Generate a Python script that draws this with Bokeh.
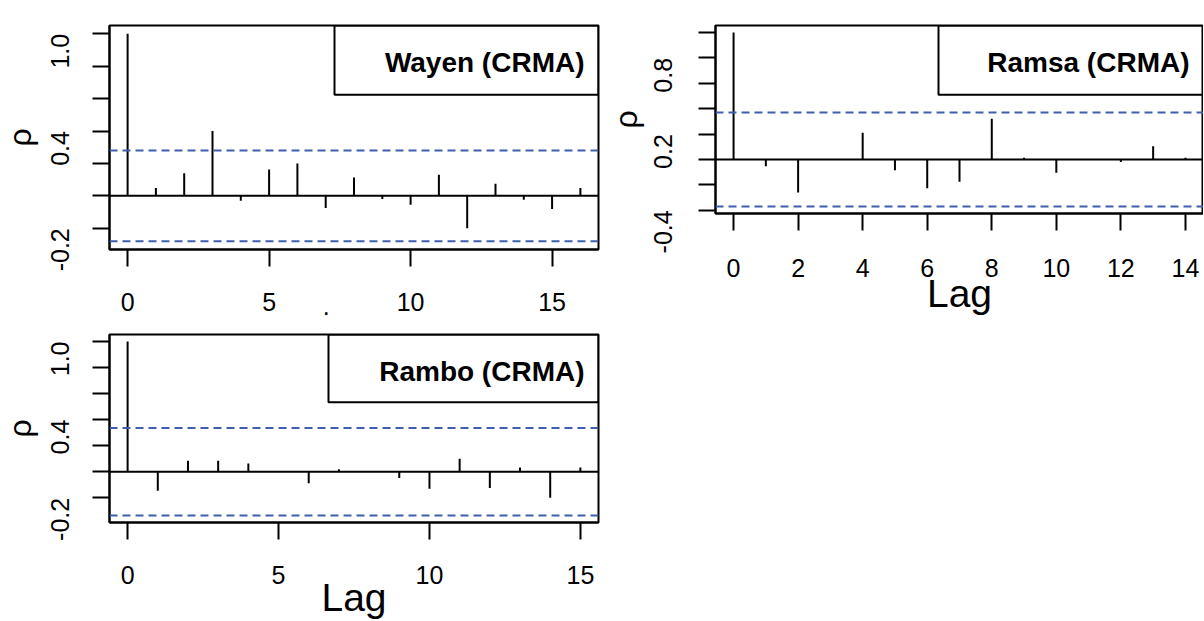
import math
from bokeh.plotting import figure
from bokeh.layouts import row, column
from bokeh.models import Span, BoxAnnotation, Label, FixedTicker, Range1d
from bokeh.embed import file_html
from bokeh.resources import INLINE

# ---------------- data ----------------
lags_wayen = list(range(17))
acf_wayen = [1.0, 0.048, 0.14, 0.40, -0.03, 0.163, 0.20, -0.075, 0.113, -0.02,
             -0.055, 0.13, -0.20, 0.075, -0.024, -0.082, 0.048]
ci_wayen = 0.28

lags_ramsa = list(range(15))
acf_ramsa = [1.0, -0.052, -0.26, 0.003, 0.21, -0.084, -0.227, -0.175, 0.32, 0.013,
             -0.105, 0.004, -0.02, 0.104, 0.013]
ci_ramsa = 0.37

lags_rambo = list(range(16))
acf_rambo = [1.0, -0.145, 0.084, 0.084, 0.064, 0.003, -0.088, 0.02, 0.003, -0.048,
             -0.13, 0.10, -0.125, 0.033, -0.20, 0.033]
ci_rambo = 0.336

titles = ["Wayen (CRMA)", "Ramsa (CRMA)", "Rambo (CRMA)"]

yticks_a = [-0.2, 0, 0.2, 0.4, 0.6, 0.8, 1]
ylabels_a = {1: "1.0", 0.4: "0.4", -0.2: "-0.2"}
yticks_b = [-0.4, -0.2, 0, 0.2, 0.4, 0.6, 0.8, 1]
ylabels_b = {0.8: "0.8", 0.2: "0.2", -0.4: "-0.4"}
xticks_a = [0, 5, 10, 15]
xticks_b = [0, 2, 4, 6, 8, 10, 12, 14]
ylabel = "ρ"
xlabel = "Lag"

FONT = "Liberation Sans"
CI_COLOR = "#3f5fad"
SHIFT = 11  # extra left room for the rho label, compensated by the layout margin


def padded(lo, hi):
    d = (hi - lo) * 0.04
    return lo - d, hi + d


def make_panel(lags, acf, ci, title, yticks, ylabels, xticks,
               width, height, bl, br, bt, bb, legend_w, legend_h,
               xstand, ystand=32, xlab=None, xlab_stand=0, xlab_size="39px"):
    x0, x1 = padded(min(lags), max(lags))
    y0, y1 = padded(min(-ci, min(acf)), max(acf))
    p = figure(width=width, height=height, output_backend="svg",
               toolbar_location=None, x_range=Range1d(x0, x1),
               y_range=Range1d(y0, y1),
               min_border_left=bl, min_border_right=br,
               min_border_top=bt, min_border_bottom=bb)
    p.grid.visible = False
    p.outline_line_color = "black"
    p.outline_line_width = 2
    p.background_fill_color = "white"
    p.border_fill_color = "white"

    fw = width - bl - br
    fh = height - bt - bb

    for ax in (p.xaxis[0], p.yaxis[0]):
        ax.axis_line_width = 2
        ax.axis_line_color = "black"
        ax.major_tick_line_width = 2
        ax.major_tick_out = 17
        ax.major_tick_in = 0
        ax.minor_tick_out = 0
        ax.minor_tick_in = 0
        ax.major_label_text_font = FONT
        ax.major_label_text_font_size = "25px"
        ax.major_label_text_color = "black"
        ax.axis_label_text_font = FONT
        ax.axis_label_text_font_style = "normal"
        ax.axis_label_text_color = "black"

    p.xaxis.ticker = FixedTicker(ticks=xticks)
    p.xaxis.major_label_standoff = xstand
    p.yaxis.ticker = FixedTicker(ticks=yticks)
    p.yaxis.major_label_overrides = {t: ylabels.get(t, "") for t in yticks}
    p.yaxis.major_label_orientation = math.pi / 2
    p.yaxis.major_label_standoff = ystand
    p.yaxis.axis_label = ylabel
    p.yaxis.axis_label_text_font_size = "32px"
    p.yaxis.axis_label_standoff = 2 - (ystand - 32)

    if xlab is not None:
        p.xaxis.axis_label = xlab
        p.xaxis.axis_label_text_font_size = xlab_size
        p.xaxis.axis_label_standoff = xlab_stand

    p.add_layout(Span(location=0, dimension="width", line_color="black",
                      line_width=2))
    for c in (ci, -ci):
        p.add_layout(Span(location=c, dimension="width", line_color=CI_COLOR,
                          line_width=2, line_dash="8 5"))

    p.segment(x0=lags, y0=0, x1=lags, y1=acf, line_color="black",
              line_width=2)

    bx = x1 - legend_w / fw * (x1 - x0)
    by = y1 - legend_h / fh * (y1 - y0)
    p.add_layout(BoxAnnotation(left=bx, right=x1, bottom=by, top=y1,
                               fill_color=None, fill_alpha=0,
                               line_color="black", line_alpha=1,
                               line_width=2))
    p.add_layout(Label(x=x1, y=y1, x_offset=-14, y_offset=-36.7, text=title,
                       text_align="right", text_baseline="middle",
                       text_font=FONT, text_font_style="bold",
                       text_font_size="28px", text_color="black"))
    return p


p1 = make_panel(lags_wayen, acf_wayen, ci_wayen, titles[0], yticks_a,
                ylabels_a, xticks_a, 600 + SHIFT, 326, 109 + SHIFT, 2, 25, 77,
                264, 69.3, 26,
                xlab="." + "\u00a0" * 8, xlab_stand=-22, xlab_size="25px")

p3 = make_panel(lags_rambo, acf_rambo, ci_rambo, titles[2], yticks_a,
                ylabels_a, xticks_a, 600 + SHIFT, 295, 109 + SHIFT, 2, 8, 98,
                270, 68.2, 26, xlab=xlabel, xlab_stand=-11)

p2 = make_panel(lags_ramsa, acf_ramsa, ci_ramsa, titles[1], yticks_b,
                ylabels_b, xticks_b, 603, 318, 115, 0, 25, 105,
                265, 69.3, 28, ystand=35, xlab=xlabel, xlab_stand=-8)

layout = row(column(p1, p3), p2, styles={"margin-left": f"-{SHIFT}px"})
open("out.html", "w").write(file_html(layout, INLINE))
